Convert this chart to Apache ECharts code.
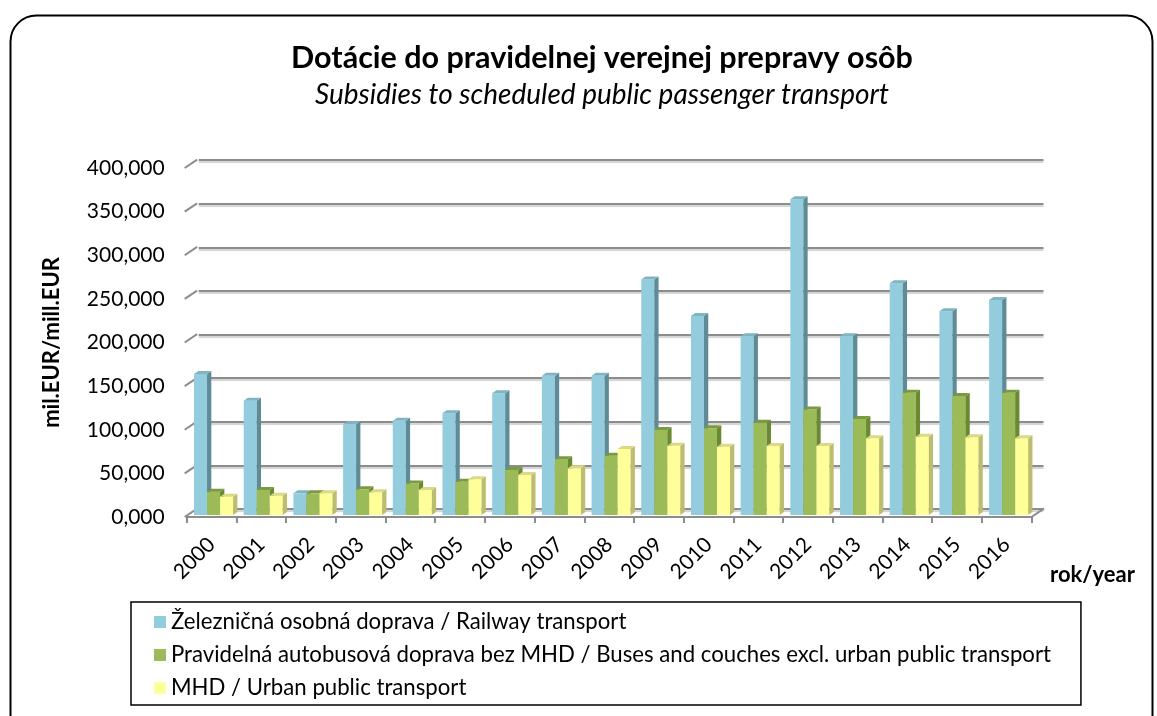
<!DOCTYPE html>
<html>
<head>
<meta charset="utf-8">
<script src="https://cdn.jsdelivr.net/npm/echarts@6/dist/echarts.min.js"></script>
<style>html,body{margin:0;padding:0;background:#fff}#c{width:1157px;height:716px}</style>
</head>
<body>
<div id="c"></div>
<script>
const years = ['2000','2001','2002','2003','2004','2005','2006','2007','2008','2009','2010','2011','2012','2013','2014','2015','2016'];
const railway = [161.6, 131.0, 24.8, 104.0, 108.0, 116.5, 139.5, 159.7, 159.7, 270.0, 228.0, 205.0, 361.8, 205.0, 265.5, 233.5, 246.4];
const buses = [26.7, 28.6, 24.8, 29.4, 36.0, 38.0, 51.6, 64.0, 68.0, 97.4, 99.4, 105.8, 121.0, 110.0, 140.0, 136.4, 140.0];
const urban = [21.0, 22.0, 25.0, 26.0, 28.6, 41.0, 45.8, 53.5, 75.6, 79.5, 78.3, 79.0, 79.0, 88.0, 89.8, 89.0, 88.0];
const yTicks = [0, 50, 100, 150, 200, 250, 300, 350, 400];
const seriesNames = [
  'Železničná osobná doprava / Railway transport',
  'Pravidelná autobusová doprava bez MHD / Buses and couches excl. urban public transport',
  'MHD / Urban public transport'
];

const FONT = 'Lato';
const frontColors = ['#93CDDD', '#9BBB59', '#FFFF99'];
const sideColors = ['#5F8B97', '#6A8933', '#BDBD70'];
const topColors = ['#7FB4C3', '#7A9A3E', '#DADA85'];

function barRender(k) {
  return function (params, api) {
    const i = api.value(0), v = api.value(1);
    const c = api.coord([i, v]);
    const c0 = api.coord([i, 0]);
    const bw = api.size([1, 0])[0];
    const start = c[0] - bw / 2;
    const w = bw * 0.262;
    const x = start + bw * 0.147 + k * w;
    const yt = c[1] - 2, yb = c0[1] - 2;
    const dx = 4.3, dy = -3;
    return {
      type: 'group',
      children: [
        { type: 'rect', shape: { x: x, y: yt, width: w, height: yb - yt }, style: { fill: frontColors[k] } },
        { type: 'polygon', shape: { points: [[x + w, yt], [x + w + dx, yt + dy], [x + w + dx, yb + dy], [x + w, yb]] }, style: { fill: sideColors[k] } },
        { type: 'polygon', shape: { points: [[x, yt], [x + w, yt], [x + w + dx, yt + dy], [x + dx, yt + dy]] }, style: { fill: topColors[k] } }
      ]
    };
  };
}

function diagRender(params, api) {
  const v = api.value(0);
  const c = api.coord([0, v]);
  const bw = api.size([1, 0])[0];
  const left = c[0] - bw / 2;
  const children = [
    { type: 'line', shape: { x1: left - 2, y1: c[1], x2: left + 10.4, y2: c[1] - 8.3 }, style: { stroke: '#8C8C8C', lineWidth: 2 } }
  ];
  if (v === 0) {
    const cr = api.coord([years.length - 1, 0]);
    const right = cr[0] + bw / 2;
    children.push({ type: 'line', shape: { x1: right, y1: c[1], x2: right + 12.4, y2: c[1] - 8.3 }, style: { stroke: '#8C8C8C', lineWidth: 2 } });
  }
  return { type: 'group', children: children };
}

const chart = echarts.init(document.getElementById('c'));
const fmt = v => v.toFixed(3).replace('.', ',');
const option = {
  animation: false,
  textStyle: { fontFamily: FONT },
  title: [
    { text: 'Dotácie do pravidelnej verejnej prepravy osôb', left: 597, top: 38, textAlign: 'center',
      textStyle: { fontFamily: FONT, fontWeight: 'bold', fontSize: 30.5, color: '#000' } },
    { text: 'Subsidies to scheduled public passenger transport', left: 597, top: 76, textAlign: 'center',
      textStyle: { fontFamily: FONT, fontStyle: 'italic', fontWeight: 'normal', fontSize: 28, color: '#000' } }
  ],
  legend: {
    orient: 'vertical', left: 131, top: 602,
    itemWidth: 12, itemHeight: 12, itemGap: 11, icon: 'rect',
    padding: [9, 30, 6, 23],
    borderColor: '#000', borderWidth: 1.5,
    textStyle: { fontFamily: FONT, fontSize: 22.2, color: '#000' },
    data: seriesNames
  },
  grid: [
    { left: 186.7, right: 125.5, top: 168, bottom: 199 },
    { left: 198.7, right: 113.5, top: 160, bottom: 207 }
  ],
  xAxis: [
    { type: 'category', gridIndex: 0, data: years,
      axisLine: { lineStyle: { color: '#8C8C8C', width: 2 } },
      axisTick: { show: true, length: 6, lineStyle: { color: '#8C8C8C', width: 2 } },
      axisLabel: { rotate: 45, margin: 24, color: '#000', fontFamily: FONT, fontSize: 21 } },
    { type: 'category', gridIndex: 1, data: years, show: false }
  ],
  yAxis: [
    { type: 'value', gridIndex: 0, min: yTicks[0], max: yTicks[yTicks.length - 1], interval: yTicks[1] - yTicks[0],
      axisLine: { show: false }, axisTick: { show: false }, splitLine: { show: false },
      axisLabel: { formatter: fmt, margin: 22, color: '#000', fontFamily: FONT, fontSize: 21 },
      name: 'mil.EUR/mill.EUR', nameLocation: 'middle', nameGap: 124,
      nameTextStyle: { fontFamily: FONT, fontWeight: 'bold', fontSize: 22, color: '#000' } },
    { type: 'value', gridIndex: 1, min: yTicks[0], max: yTicks[yTicks.length - 1], interval: yTicks[1] - yTicks[0],
      axisLine: { show: false }, axisTick: { show: false }, axisLabel: { show: false },
      splitLine: { lineStyle: { color: '#8C8C8C', width: 2, shadowColor: 'rgba(0,0,0,0.18)', shadowOffsetY: 2, shadowBlur: 1 } } }
  ],
  series: [
    { type: 'custom', name: 'diag', xAxisIndex: 0, yAxisIndex: 0, renderItem: diagRender,
      data: yTicks.map(v => [v]), encode: { y: 0 }, silent: true, z: 1, itemStyle: { color: '#8C8C8C' } },
    { type: 'custom', name: seriesNames[0], xAxisIndex: 0, yAxisIndex: 0, renderItem: barRender(0),
      itemStyle: { color: frontColors[0] },
      data: railway.map((v, i) => [i, v]), encode: { x: 0, y: 1 }, z: 3 },
    { type: 'custom', name: seriesNames[1], xAxisIndex: 0, yAxisIndex: 0, renderItem: barRender(1),
      itemStyle: { color: frontColors[1] },
      data: buses.map((v, i) => [i, v]), encode: { x: 0, y: 1 }, z: 4 },
    { type: 'custom', name: seriesNames[2], xAxisIndex: 0, yAxisIndex: 0, renderItem: barRender(2),
      itemStyle: { color: frontColors[2] },
      data: urban.map((v, i) => [i, v]), encode: { x: 0, y: 1 }, z: 5 }
  ],
  graphic: [
    { type: 'rect', left: 8, top: 13, shape: { width: 1142, height: 760, r: 26 },
      style: { fill: 'none', stroke: '#000', lineWidth: 2 }, z: 100, silent: true },
    { type: 'text', left: 1050, top: 564, style: { text: 'rok/year', fontFamily: FONT, fontWeight: 'bold', fontSize: 22, fill: '#000' } }
  ]
};
chart.setOption(option);
</script>
</body>
</html>
